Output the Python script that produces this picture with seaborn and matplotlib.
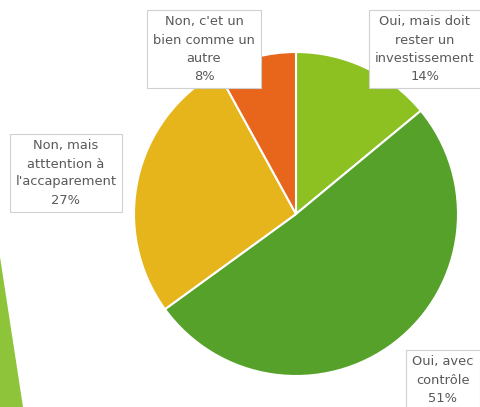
import matplotlib
matplotlib.use('Agg')
import matplotlib.pyplot as plt
from matplotlib.patches import Polygon
import seaborn as sns

# slices, clockwise from 12 o'clock
labels = ["Oui, mais doit\nrester un\ninvestissement",
          "Oui, avec\ncontrôle",
          "Non, mais\natttention à\nl'accaparement",
          "Non, c'et un\nbien comme un\nautre"]
shares = [14, 51, 27, 8]
colors = ['#8cc121', '#56a12a', '#e6b41b', '#e7661b']

# where each label box sits (pixels, y from top)
label_pos = [(425, 49), (443, 380), (66, 173), (204, 49)]

sns.set_theme(style='white')
plt.rcParams['font.family'] = ['DejaVu Sans']

fig = plt.figure(figsize=(4.81, 4.07), dpi=100)
ax = fig.add_axes([0, 0, 1, 1])

# slide decoration on the left edge
ax.add_patch(Polygon([(0, 257), (23, 407), (0, 407)], closed=True,
                     facecolor='#8dc43a', edgecolor='none'))

# y axis is inverted, so counterclock=True draws clockwise on screen
ax.pie(shares, colors=colors, startangle=-90, counterclock=True,
       center=(296, 214), radius=162, frame=True,
       wedgeprops=dict(edgecolor='white', linewidth=1.5))
ax.set_xlim(0, 481)
ax.set_ylim(407, 0)
ax.set_aspect('auto')
ax.axis('off')

for lab, val, (x, y) in zip(labels, shares, label_pos):
    ax.text(x, y, f"{lab}\n{val}%", ha='center', va='center',
            fontsize=9.4, color='#595959', linespacing=1.5, zorder=5,
            bbox=dict(boxstyle='square,pad=0.45', facecolor='white',
                      edgecolor='#d0d0d0', linewidth=0.8))

fig.savefig('out.png', dpi=100)
